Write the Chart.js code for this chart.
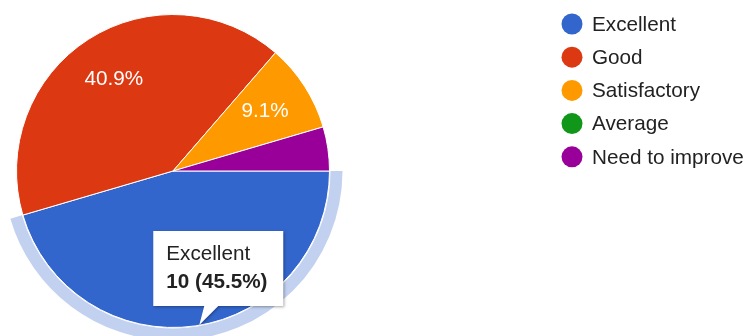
<!DOCTYPE html>
<html>
<head>
<meta charset="utf-8">
<script src="https://cdn.jsdelivr.net/npm/chart.js@4"></script>
<style>
  html, body { margin: 0; padding: 0; background: #fff; }
  #wrap { width: 747px; height: 336px; position: relative; }
</style>
</head>
<body>
<div id="wrap"><canvas id="ratingChart"></canvas></div>
<script>
// データ
const categories = ['Excellent', 'Good', 'Satisfactory', 'Average', 'Need to improve'];
const counts = [10, 9, 2, 0, 1];
const sliceColors = ['#3366cc', '#dc3912', '#ff9900', '#109618', '#990099'];
const highlighted = 0; // ホバー中のスライス (Excellent)

const total = counts.reduce((a, b) => a + b, 0);
const pct = v => (v / total * 100).toFixed(1) + '%';
const FONT = '"Liberation Sans", Arial, sans-serif';
const SIZE = '20.7px ';

// Googleチャート風の装飾 (ハイライト輪・ラベル・ツールチップ・凡例)
const googleStyle = {
    id: 'googleStyle',
    afterDatasetsDraw(chart) {
        const ctx = chart.ctx;
        const arcs = chart.getDatasetMeta(0).data;

        // ハイライトの輪
        const h = arcs[highlighted];
        ctx.save();
        ctx.beginPath();
        ctx.arc(h.x, h.y, h.outerRadius + 13, h.startAngle, h.endAngle);
        ctx.arc(h.x, h.y, h.outerRadius + 1, h.endAngle, h.startAngle, true);
        ctx.closePath();
        ctx.fillStyle = '#c2d1f0';
        ctx.fill();
        ctx.restore();

        // スライス内のパーセント表示
        ctx.save();
        ctx.font = SIZE + FONT;
        ctx.fillStyle = '#ffffff';
        ctx.textAlign = 'center';
        ctx.textBaseline = 'middle';
        arcs.forEach((arc, i) => {
            if (i === highlighted) return;
            if (counts[i] / total < 0.05) return;
            const mid = (arc.startAngle + arc.endAngle) / 2;
            const r = arc.outerRadius * 0.7;
            ctx.fillText(pct(counts[i]), arc.x + Math.cos(mid) * r, arc.y + Math.sin(mid) * r);
        });
        ctx.restore();
    },
    afterDraw(chart) {
        const ctx = chart.ctx;
        const arcs = chart.getDatasetMeta(0).data;

        // ツールチップ
        const h = arcs[highlighted];
        const mid = (h.startAngle + h.endAngle) / 2;
        const tipX = h.x + Math.cos(mid) * h.outerRadius + 4;
        const tipY = h.y + Math.sin(mid) * h.outerRadius - 1;
        const bx = tipX - 46, by = tipY - 94, bw = 130, bh = 75;

        ctx.save();
        ctx.shadowColor = 'rgba(0,0,0,0.35)';
        ctx.shadowBlur = 3;
        ctx.shadowOffsetX = 1;
        ctx.shadowOffsetY = 1;
        ctx.beginPath();
        ctx.moveTo(bx, by);
        ctx.lineTo(bx + bw, by);
        ctx.lineTo(bx + bw, by + bh);
        ctx.lineTo(tipX + 19, by + bh);
        ctx.lineTo(tipX, tipY);
        ctx.lineTo(tipX + 5, by + bh);
        ctx.lineTo(bx, by + bh);
        ctx.closePath();
        ctx.fillStyle = '#ffffff';
        ctx.fill();
        ctx.restore();

        ctx.save();
        ctx.fillStyle = '#222222';
        ctx.textAlign = 'left';
        ctx.textBaseline = 'alphabetic';
        ctx.font = SIZE + FONT;
        ctx.fillText(categories[highlighted], bx + 13, by + 29);
        ctx.font = 'bold ' + SIZE + FONT;
        ctx.fillText(counts[highlighted] + ' (' + pct(counts[highlighted]) + ')', bx + 13, by + 57);
        ctx.restore();

        // 凡例
        ctx.save();
        ctx.font = SIZE + FONT;
        ctx.textBaseline = 'middle';
        ctx.textAlign = 'left';
        categories.forEach((label, i) => {
            const cy = 24 + i * 33.2;
            ctx.beginPath();
            ctx.arc(572, cy, 10.5, 0, Math.PI * 2);
            ctx.fillStyle = sliceColors[i];
            ctx.fill();
            ctx.fillStyle = '#222222';
            ctx.fillText(label, 592, cy + 1);
        });
        ctx.restore();
    }
};

const ctx = document.getElementById('ratingChart').getContext('2d');
new Chart(ctx, {
    type: 'pie',
    data: {
        labels: categories,
        datasets: [{
            data: counts,
            backgroundColor: sliceColors,
            borderColor: '#ffffff',
            borderWidth: 1,
            hoverOffset: 0,
            offset: 0
        }]
    },
    options: {
        responsive: true,
        maintainAspectRatio: false,
        animation: false,
        events: [],
        rotation: 90,
        layout: {
            padding: { left: 16, top: 14, right: 417, bottom: 8 }
        },
        plugins: {
            legend: { display: false },
            tooltip: { enabled: false }
        }
    },
    plugins: [googleStyle]
});
</script>
</body>
</html>
